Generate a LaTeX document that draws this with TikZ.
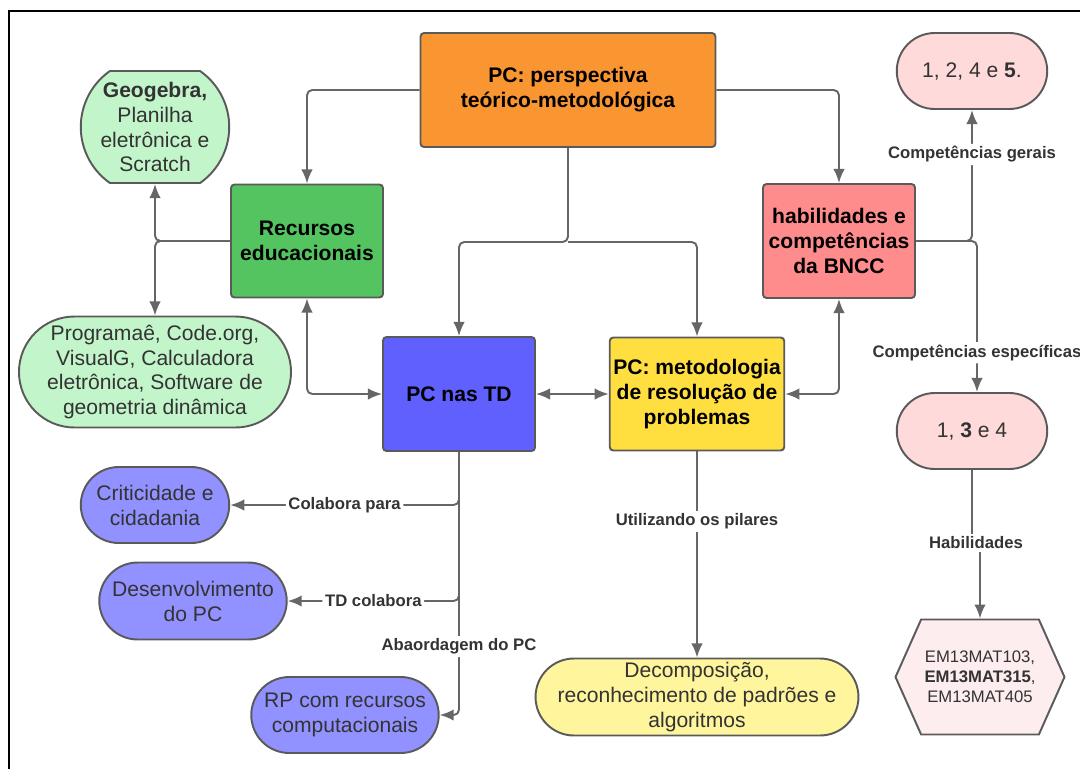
\documentclass[tikz,border=0pt]{standalone}
\usepackage{fontspec}
\setmainfont{Liberation Sans}
\usetikzlibrary{positioning, arrows.meta, shapes.misc, shapes.symbols}
\definecolor{laranja}{RGB}{250,150,50}
\definecolor{verde}{RGB}{84,196,96}
\definecolor{verdeclaro}{RGB}{195,245,202}
\definecolor{azul}{RGB}{96,96,255}
\definecolor{lilas}{RGB}{145,145,255}
\definecolor{amarelo}{RGB}{255,223,64}
\definecolor{amareloclaro}{RGB}{255,245,157}
\definecolor{vermelho}{RGB}{255,140,140}
\definecolor{rosa}{RGB}{255,218,218}
\definecolor{rosaclaro}{RGB}{253,237,238}
\definecolor{borda}{RGB}{90,90,90}
\definecolor{linha}{RGB}{102,102,102}
\definecolor{texto}{RGB}{51,51,51}
\begin{document}
\begin{tikzpicture}[x=0.02cm, y=-0.02cm, font=\fontsize{12}{14.2}\selectfont,
	every node/.style={align=center},
	caixa/.style={draw=borda, line width=1.1pt, rounded corners=2pt, font=\fontsize{12}{14.2}\selectfont\bfseries, inner sep=2pt},
	capsula/.style={draw=borda, line width=1.1pt, rounded rectangle, text=texto, inner sep=1pt},
	seta/.style={draw=linha, line width=1.1pt, -{Latex[length=8pt,width=6.5pt]}, rounded corners=3pt},
	dupla/.style={seta, {Latex[length=8pt,width=6.5pt]}-{Latex[length=8pt,width=6.5pt]}},
	rotulo/.style={fill=white, text=texto, font=\fontsize{9.5}{11}\selectfont\bfseries, inner sep=1.5pt}]
	\useasboundingbox (0,0) rectangle (1080,769);
	\draw[line width=1.4pt] (9,769) -- (9,11) -- (1080,11);
	\node[caixa, fill=laranja, minimum width=5.9cm, minimum height=2.28cm] (persp) at (568,90) {PC: perspectiva\\teórico-metodológica};
	\node[caixa, fill=verde, minimum width=3.04cm, minimum height=2.26cm] (recursos) at (307,241) {Recursos\\educacionais};
	\node[caixa, fill=vermelho, minimum width=3.04cm, minimum height=2.28cm] (bncc) at (839,241) {habilidades e\\competências\\da BNCC};
	\node[caixa, fill=azul, minimum width=3.04cm, minimum height=2.28cm] (td) at (459,394) {PC nas TD};
	\node[caixa, fill=amarelo, minimum width=3.44cm, minimum height=2.26cm] (metod) at (697,394) {PC: metodologia\\de resolução de\\problemas};
	\node[capsula, fill=verdeclaro, rounded rectangle arc length=110, minimum width=3.04cm, minimum height=2.24cm] (geo) at (155,127) {\textbf{Geogebra,}\\Planilha\\eletrônica e\\Scratch};
	\node[capsula, fill=verdeclaro, minimum width=5.36cm, minimum height=2.22cm] (progr) at (155,372) {Programaê, Code.org,\\VisualG, Calculadora\\eletrônica, Software de\\geometria dinâmica};
	\node[capsula, fill=rosa, minimum width=3.08cm, minimum height=1.52cm] (geral) at (972,71) {1, 2, 4 e \textbf{5}.};
	\node[capsula, fill=rosa, minimum width=3.08cm, minimum height=1.52cm] (espec) at (972,431) {1, \textbf{3} e 4};
	\node[draw=borda, line width=1.1pt, fill=rosaclaro, text=texto, shape=signal, signal to=west and east, signal pointer angle=132, minimum width=3.38cm, minimum height=2.3cm, inner sep=1pt, font=\fontsize{9.5}{11.4}\selectfont] (codigos) at (980,677) {EM13MAT103,\\\textbf{EM13MAT315},\\EM13MAT405};
	\node[capsula, fill=lilas, minimum width=3.04cm, minimum height=1.52cm] (crit) at (155,505) {Criticidade e\\cidadania};
	\node[capsula, fill=lilas, minimum width=3.82cm, minimum height=1.54cm] (desenv) at (193,601) {Desenvolvimento\\do PC};
	\node[capsula, fill=lilas, minimum width=3.82cm, minimum height=1.52cm] (rpcomp) at (345,715) {RP com recursos\\computacionais};
	\node[capsula, fill=amareloclaro, inner sep=0pt, minimum width=6.1cm, minimum height=1.54cm] (pilares) at (697,697) {Decomposição,\\reconhecimento de padrões e\\algoritmos};
	\coordinate (split) at (568,242);
	\coordinate (salto) at (0,543);
	\draw[seta] (persp.west) -| (recursos.north);
	\draw[seta] (persp.east) -| (bncc.north);
	\draw[seta] (persp.south) -- (split) -| (td.north);
	\draw[seta] (split) -| (metod.north);
	\draw[seta] (recursos.west) -| (geo.south);
	\draw[seta] (recursos.west) -| (progr.north);
	\draw[dupla] (recursos.south) |- (td.west);
	\draw[dupla] (bncc.south) |- (metod.east);
	\draw[dupla] (td.east) -- (metod.west);
	\draw[seta] (td.south) |- node[rotulo, pos=0.75] {Colabora para} (crit.east);
	\draw[seta] (td.south) |- node[rotulo, pos=0.75] {TD colabora} (desenv.east);
	\draw[seta] (td.south) |- node[rotulo, pos=0.37] {Abaordagem do PC} (rpcomp.east);
	\draw[seta] (metod.south) -- node[rotulo, pos=0.34] {Utilizando os pilares} (pilares.north);
	\draw[seta] (bncc.east) -| node[rotulo, pos=0.83] {Competências gerais} (geral.south);
	\draw[seta] (bncc.east) -| node[rotulo, pos=0.87] {Competências específicas} ([xshift=1mm]espec.north);
	\draw[seta] (espec.south) -- (espec.south |- salto) -- node[rotulo] {Habilidades} (codigos.north |- salto) -- (codigos.north);
\end{tikzpicture}
\end{document}
